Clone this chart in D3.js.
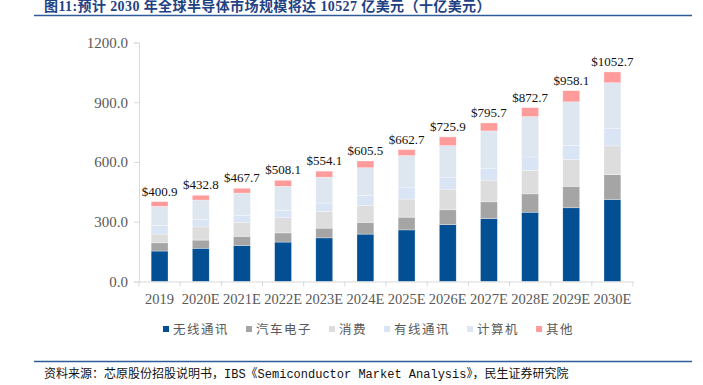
<!DOCTYPE html>
<html lang="zh">
<head>
<meta charset="UTF-8">
<title>全球半导体市场规模</title>
<script src="https://d3js.org/d3.v7.min.js"></script>
<style>
  body { margin: 0; background: #fff; }
  .tick-label { font-family: "Liberation Serif", serif; fill: #595959; }
  .value-label { font-family: "Liberation Serif", serif; font-size: 13px; fill: #111; text-anchor: middle; }
  .legend-text { font-family: "Noto Sans CJK SC", sans-serif; font-size: 12.5px; fill: #595959; letter-spacing: 1.5px; }
</style>
</head>
<body>
<div id="chart"></div>
<script>
  // data (十亿美元)
  const categories = ["2019", "2020E", "2021E", "2022E", "2023E", "2024E", "2025E", "2026E", "2027E", "2028E", "2029E", "2030E"];
  const seriesNames = ["无线通讯", "汽车电子", "消费", "有线通讯", "计算机", "其他"];
  const wireless = [153, 167, 181, 198, 219, 238, 259, 285, 316, 348, 370, 412];
  const automotive = [41, 41, 46, 46, 49, 59, 64, 75, 84, 92, 108, 124];
  const consumer = [44, 66, 68, 76, 85, 86, 91, 104, 109, 117, 136, 145];
  const wired = [44, 37, 36, 36, 41, 50, 57, 60, 60, 68, 70, 87];
  const computer = [95, 98, 113, 122, 130, 138, 161, 158, 187, 203, 218, 230];
  const other = [24, 24, 24, 30, 30, 34, 30, 44, 40, 45, 56, 54];
  const totals = [400.9, 432.8, 467.7, 508.1, 554.1, 605.5, 662.7, 725.9, 795.7, 872.7, 958.1, 1052.7];
  const yTicks = [0, 300, 600, 900, 1200];

  const colors = ["#034F94", "#A5A5A5", "#DDDDDD", "#D9E4F5", "#DEE6EF", "#FF9B9B"];
  const seriesValues = [wireless, automotive, consumer, wired, computer, other];

  const width = 703, height = 385;
  const svg = d3.select("#chart").append("svg")
      .attr("width", width)
      .attr("height", height);

  // title + rules
  svg.append("text")
      .attr("x", 44).attr("y", 10.5)
      .attr("fill", "#1F4283")
      .attr("font-family", "'Liberation Serif', 'Noto Sans CJK SC', serif")
      .attr("font-weight", "bold")
      .attr("font-size", "14px")
      .attr("letter-spacing", "0.4px")
      .text("图11:预计 2030 年全球半导体市场规模将达 10527 亿美元（十亿美元）");
  svg.append("line")
      .attr("x1", 34).attr("x2", 692).attr("y1", 15.5).attr("y2", 15.5)
      .attr("stroke", "#2F5C99").attr("stroke-width", 1.5);
  svg.append("line")
      .attr("x1", 34).attr("x2", 692).attr("y1", 361.5).attr("y2", 361.5)
      .attr("stroke", "#2F5C99").attr("stroke-width", 1.5);
  svg.append("text")
      .attr("x", 44).attr("y", 378)
      .attr("fill", "#111")
      .attr("font-family", "'Liberation Mono', 'Noto Sans CJK SC', monospace")
      .attr("font-size", "12px")
      .text("资料来源：芯原股份招股说明书，IBS《Semiconductor Market Analysis》，民生证券研究院");

  // scales
  const x = d3.scaleBand().domain(categories).range([139, 633]);
  const y = d3.scaleLinear().domain([0, 1200]).range([281.5, 42.5]);
  const barW = x.bandwidth() * 0.41;

  // stacked data
  const rows = categories.map((c, i) => {
    const r = { cat: c };
    seriesNames.forEach((s, j) => { r[s] = seriesValues[j][i]; });
    return r;
  });
  const stack = d3.stack().keys(seriesNames)(rows);

  svg.append("g").selectAll("g")
    .data(stack)
    .join("g")
      .attr("fill", (d, i) => colors[i])
    .selectAll("rect")
    .data(d => d)
    .join("rect")
      .attr("x", d => x(d.data.cat) + (x.bandwidth() - barW) / 2)
      .attr("width", barW)
      .attr("y", d => y(d[1]))
      .attr("height", d => y(d[0]) - y(d[1]))
      .attr("stroke", "#fff")
      .attr("stroke-opacity", 0.6)
      .attr("stroke-width", 0.5);

  // y axis
  const yAxis = svg.append("g")
      .attr("transform", "translate(139,0)")
      .call(d3.axisLeft(y).tickValues(yTicks).tickFormat(d3.format(".1f")).tickSize(5).tickPadding(6));
  yAxis.selectAll("line, path").attr("stroke", "#D9D9D9");
  yAxis.selectAll("text").attr("class", "tick-label").attr("font-size", "15px");

  // x axis: labels without ticks, tick marks on band boundaries
  const xAxis = svg.append("g")
      .attr("transform", "translate(0," + y(0) + ")")
      .call(d3.axisBottom(x).tickSize(0).tickPadding(12));
  xAxis.select("path").attr("stroke", "#D9D9D9");
  xAxis.selectAll("text").attr("class", "tick-label").attr("font-size", "14.5px");
  const bounds = categories.map(c => x(c)).concat([x(categories[categories.length - 1]) + x.bandwidth()]);
  svg.append("g").selectAll("line")
    .data(bounds)
    .join("line")
      .attr("x1", d => d).attr("x2", d => d)
      .attr("y1", y(0)).attr("y2", y(0) + 5)
      .attr("stroke", "#D9D9D9");

  // totals
  svg.append("g").selectAll("text")
    .data(totals)
    .join("text")
      .attr("class", "value-label")
      .attr("x", (d, i) => x(categories[i]) + x.bandwidth() / 2)
      .attr("y", d => y(d) - 6)
      .text(d => "$" + d.toFixed(1));

  // legend
  const legend = svg.append("g").attr("transform", "translate(163,329)");
  let lx = 0;
  seriesNames.forEach((name, i) => {
    const g = legend.append("g").attr("transform", "translate(" + lx + ",0)");
    g.append("rect").attr("x", 0).attr("y", -3).attr("width", 6).attr("height", 6).attr("fill", colors[i]);
    const t = g.append("text").attr("class", "legend-text")
        .attr("x", 10).attr("y", 4.5).text(name);
    lx += 10 + t.node().getComputedTextLength() + 17;
  });
</script>
</body>
</html>
